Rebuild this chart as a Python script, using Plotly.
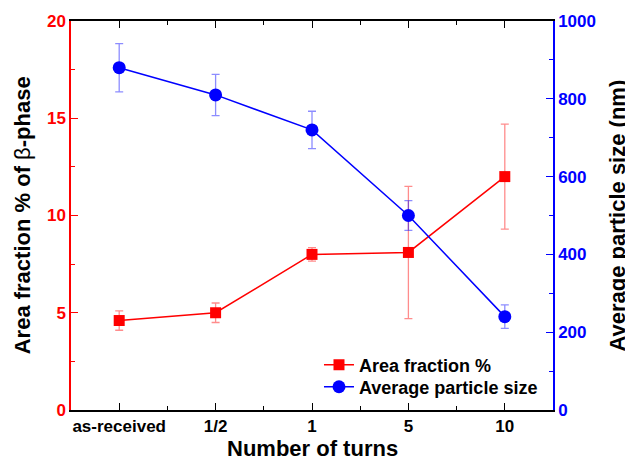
import plotly.graph_objects as go

categories = ["as-received", "1/2", "1", "5", "10"]
area_fraction = [4.6, 5.0, 8.0, 8.1, 12.0]
area_fraction_err = [0.5, 0.5, 0.35, 3.4, 2.7]
particle_size = [880, 810, 720, 500, 240]
particle_size_err = [62, 53, 48, 38, 30]

xpos = list(range(len(categories)))
FONT = "Liberation Sans, Arial, sans-serif"
legend_font = dict(size=18, family=FONT, color="black", weight="bold")

fig = go.Figure()
fig.add_trace(go.Scatter(
    x=xpos, y=area_fraction, name="Area fraction %",
    mode="lines+markers", legend="legend",
    line=dict(color="#ff0000", width=1.5),
    marker=dict(symbol="square", size=11, color="#ff0000"),
    error_y=dict(type="data", array=area_fraction_err, visible=True,
                 color="rgba(255,0,0,0.45)", thickness=1.3, width=4),
))
fig.add_trace(go.Scatter(
    x=xpos, y=particle_size, name="Average particle size",
    mode="lines+markers", yaxis="y2", legend="legend2",
    line=dict(color="#0000ff", width=1.5),
    marker=dict(symbol="circle", size=13, color="#0000ff"),
    error_y=dict(type="data", array=particle_size_err, visible=True,
                 color="rgba(0,0,255,0.45)", thickness=1.3, width=4),
))

title_font = dict(size=22, family=FONT, weight="bold", color="black")

fig.update_layout(
    width=625, height=457,
    margin=dict(l=63, r=80, t=13, b=55),
    paper_bgcolor="white", plot_bgcolor="white",
    font=dict(family=FONT, size=17, color="black"),
    showlegend=True,
    legend=dict(x=0.5145, y=0.1157, xanchor="left", yanchor="middle",
                bgcolor="rgba(0,0,0,0)", font=legend_font, itemwidth=30),
    legend2=dict(x=0.5145, y=0.059, xanchor="left", yanchor="middle",
                 bgcolor="rgba(0,0,0,0)", font=legend_font, itemwidth=30),
    xaxis=dict(
        range=[-0.5, 4.5], tickmode="array", tickvals=xpos, ticktext=categories,
        showline=True, linecolor="black", linewidth=1.5, mirror="ticks",
        ticks="inside", ticklen=7, tickwidth=1.3, tickcolor="black",
        showgrid=False, zeroline=False, automargin=False,
        tickfont=dict(size=17, family=FONT, weight="bold"),
        minor=dict(tickvals=[0.5, 1.5, 2.5, 3.5], ticks="inside", ticklen=4,
                   tickwidth=1.3, tickcolor="black", showgrid=False),
    ),
    yaxis=dict(
        range=[0, 20], tickmode="linear", tick0=0, dtick=5,
        showline=True, linecolor="#ff0000", linewidth=1.5,
        ticks="inside", ticklen=7, tickwidth=1.3, tickcolor="#ff0000",
        showgrid=False, zeroline=False, automargin=False,
        tickfont=dict(size=17, color="#ff0000", family=FONT, weight="bold"),
        minor=dict(dtick=2.5, ticks="inside", ticklen=4, tickwidth=1.3,
                   tickcolor="#ff0000", showgrid=False),
    ),
    yaxis2=dict(
        range=[0, 1000], tickmode="linear", tick0=0, dtick=200,
        overlaying="y", side="right",
        showline=True, linecolor="#0000ff", linewidth=1.5,
        ticks="inside", ticklen=7, tickwidth=1.3, tickcolor="#0000ff",
        showgrid=False, zeroline=False, automargin=False,
        tickfont=dict(size=17, color="#0000ff", family=FONT, weight="bold"),
        minor=dict(dtick=100, ticks="inside", ticklen=4, tickwidth=1.3,
                   tickcolor="#0000ff", showgrid=False),
    ),
    annotations=[
        dict(text="Number of turns", xref="paper", yref="paper", x=0.5, y=-0.098,
             xanchor="center", yanchor="middle", showarrow=False, font=title_font),
        dict(text="Area fraction % of <span style='font-weight:normal'>β</span>-phase",
             xref="paper", x=-0.1, xanchor="center", yref="paper", y=0.5, yanchor="middle",
             textangle=-90, showarrow=False, font=title_font),
        dict(text="Average particle size (nm)",
             xref="paper", x=1.133, xanchor="center", yref="paper", y=0.5, yanchor="middle",
             textangle=-90, showarrow=False, font=title_font),
    ],
)

fig.write_html("out.html")
